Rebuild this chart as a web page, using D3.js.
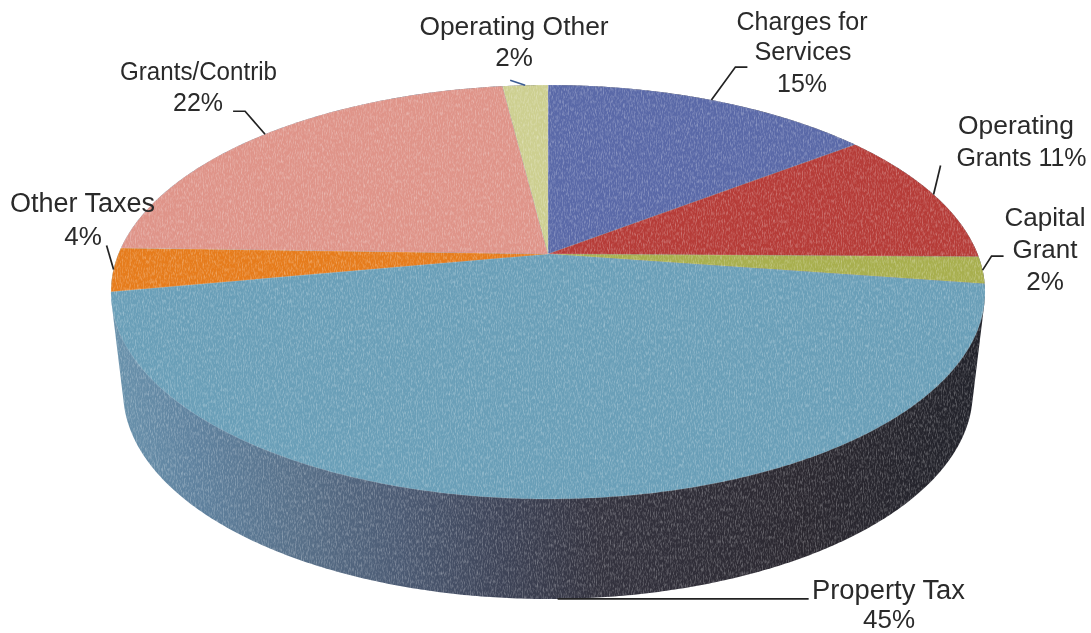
<!DOCTYPE html>
<html><head><meta charset="utf-8">
<script src="https://cdn.jsdelivr.net/npm/d3@7"></script>
<style>html,body{margin:0;padding:0;background:#fff}svg{display:block}</style>
</head><body><svg id="c" width="1091" height="633"></svg>
<script>
const categories = ["Charges for Services","Operating Grants","Capital Grant","Property Tax","Other Taxes","Grants/Contrib","Operating Other"];
const shares = [14.6,10.6,2.1,44.75,3.4,22.5,2.0];
const percentLabels = ["15%","11%","2%","45%","4%","22%","2%"];
const colors = ["#5a69a8","#b63c38","#a8af4e","#6a9fb8","#e67c1c","#df9489","#cdcf90"];
const wallStops = [[111,"#6a93ad"],[200,"#5f819e"],[300,"#587089"],[400,"#4c5b74"],[500,"#3e4458"],[600,"#34333f"],[800,"#2b2830"],[985,"#22232b"]];

// layout: label lines [text,x,baseline,fontSize,width], leader elbow offsets from the slice anchor
const layout = [
 {lines:[["Charges for",802,30,26,131],["Services",803,60,26,97],["15%",802,92,26,50]], leader:[[24,-33],[36,-33]]},
 {lines:[["Operating",1016,134,26.4],["Grants 11%",1021.5,166,25]], leader:[[7,-29]]},
 {lines:[["Capital",1045,226,26],["Grant",1045,258,26],["2%",1045,290,26]], leader:[[9,-14],[21,-14]]},
 {lines:[["Property Tax",888.5,599,27,153],["45%",889,627.5,25,52]], leader:[[251,0]], onWall:true},
 {lines:[["Other Taxes",82.5,212,27],["4%",83,245,26]], leader:[[-7,-24]]},
 {lines:[["Grants/Contrib",198.5,80,26,157],["22%",198,111,26,50]], leader:[[-20,-23],[-32,-23]]},
 {lines:[["Operating Other",514,35,26.4],["2%",514,66,26]], leader:[[-15,-5]], color:"#3a5c94"}
];

const svg = d3.select("#c");
const defs = svg.append("defs");
const scaleX = d3.scaleLinear().domain([-1,1]).range([548-429.6,548+429.6]);
const scaleY = d3.scaleLinear().domain([-1,1]).range([254-200,254+200]);
const persp = -0.1836, wallDepth = 100, wallShrink = 0.972;
function project(a){
  const u=Math.sin(a), v=-Math.cos(a), d=1+persp*v;
  return [scaleX(u/d), scaleY(v/d)];
}
function projectWall(a){
  const [x,y]=project(a);
  return [548+(x-548)*wallShrink, y+wallDepth];
}
const apex=[scaleX(0),scaleY(0)];
const arcs = d3.pie().sort(null).value(d=>d)(shares);
const angles = d3.range(0,720).map(i=>i/720*2*Math.PI);

// filter: fine scan grain
const f = defs.append("filter").attr("id","grain").attr("x","0").attr("y","0").attr("width","1").attr("height","1")
  .attr("color-interpolation-filters","sRGB");
f.append("feTurbulence").attr("type","fractalNoise").attr("baseFrequency","0.85 0.25").attr("numOctaves",2).attr("seed",4).attr("result","n");
f.append("feColorMatrix").attr("in","n").attr("type","matrix")
  .attr("values","0 0 0 0 1  0 0 0 0 1  0 0 0 0 1  0.7 0 0 0 -0.3").attr("result","w");
f.append("feComposite").attr("in","w").attr("in2","SourceAlpha").attr("operator","in").attr("result","wc");
const fm=f.append("feMerge");
fm.append("feMergeNode").attr("in","SourceGraphic");
fm.append("feMergeNode").attr("in","wc");
defs.append("filter").attr("id","soft").append("feGaussianBlur").attr("stdDeviation",0.35);

const grad = defs.append("linearGradient").attr("id","wall").attr("gradientUnits","userSpaceOnUse")
  .attr("x1",111).attr("x2",985).attr("y1",0).attr("y2",0);
wallStops.forEach(([x,c])=>grad.append("stop").attr("offset",(x-111)/874).attr("stop-color",c));

const g = svg.append("g").attr("filter","url(#grain)");
const hull = d3.polygonHull(angles.map(project).concat(angles.map(projectWall)));
g.append("path").attr("d",d3.line()(hull)+"Z").attr("fill","url(#wall)");

g.selectAll("path.slice").data(arcs).join("path").attr("class","slice")
  .attr("d",d=>{
    const n=Math.max(4,Math.ceil((d.endAngle-d.startAngle)*120));
    const pts=d3.range(n+1).map(i=>project(d.startAngle+(d.endAngle-d.startAngle)*i/n));
    return d3.line()([apex,...pts])+"Z";
  })
  .attr("fill",(d,i)=>colors[i])
  .attr("stroke","#ffffff").attr("stroke-opacity",0.2).attr("stroke-width",0.8).attr("stroke-linejoin","round");

const lab = svg.append("g").attr("filter","url(#soft)");
arcs.forEach((d,i)=>{
  const mid=(d.startAngle+d.endAngle)/2, L=layout[i];
  const a=L.onWall?projectWall(mid):project(mid);
  const pts=[a,...L.leader.map(o=>[a[0]+o[0],a[1]+o[1]])];
  lab.append("path").attr("d",d3.line()(pts)).attr("fill","none")
    .attr("stroke",L.color||"#222").attr("stroke-width",1.7);
  L.lines.forEach(([t,x,y,s,w])=>{
    const el=lab.append("text").attr("x",x).attr("y",y).attr("text-anchor","middle")
      .attr("font-family","'Liberation Sans',Arial,sans-serif").attr("font-size",s)
      .attr("fill","#2a2a2a").text(t);
    if(w) el.attr("textLength",w).attr("lengthAdjust","spacingAndGlyphs");
  });
});
</script></body></html>
